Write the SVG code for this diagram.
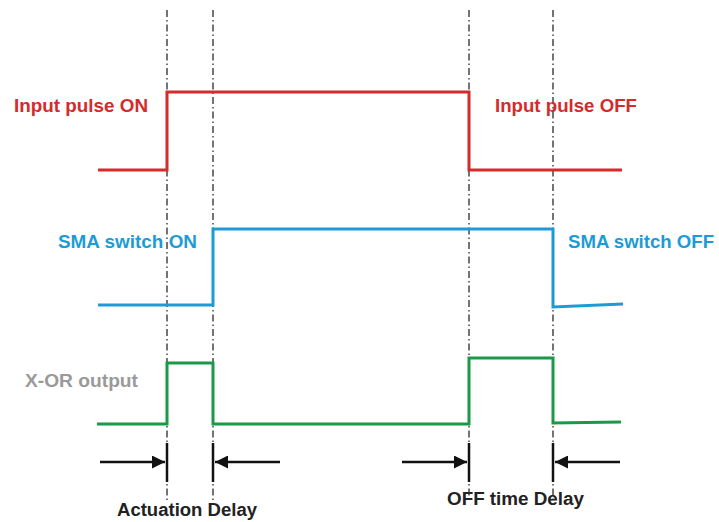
<svg xmlns="http://www.w3.org/2000/svg" width="719" height="522" viewBox="0 0 719 522">
<defs>
<style>
.guide{stroke:#2a2a2a;stroke-width:1.3;stroke-dasharray:7,3,1.5,3;fill:none}
.sig{fill:none;stroke-width:3;stroke-linejoin:miter}
.red{stroke:#d42b2b}
.blue{stroke:#1d9bd7}
.green{stroke:#1a9a48}
.lbl{font-family:"Liberation Sans",Arial,sans-serif;font-weight:bold;font-size:18px}
.tick{stroke:#111;stroke-width:2.5}
.arr{stroke:#111;stroke-width:2.5;fill:none;marker-end:url(#ah)}
</style>
<marker id="ah" viewBox="0 0 10 10" refX="10" refY="5" markerUnits="userSpaceOnUse" markerWidth="17" markerHeight="13" orient="auto">
<path d="M0,0 L10,5 L0,10 z" fill="#111"/>
</marker>
</defs>
<rect width="719" height="522" fill="#fff"/>
<g id="guides">
<line class="guide" x1="167" y1="10" x2="167" y2="500"/>
<line class="guide" x1="213" y1="10" x2="213" y2="500"/>
<line class="guide" x1="469" y1="10" x2="469" y2="500"/>
<line class="guide" x1="553" y1="10" x2="553" y2="500"/>
</g>
<g id="input-pulse">
<polyline class="sig red" points="98,170 167,170 167,92 469,92 469,170 622,170"/>
<text class="lbl" x="14" y="112" fill="#d42b2b" textLength="134" lengthAdjust="spacingAndGlyphs">Input pulse ON</text>
<text class="lbl" x="495" y="112" fill="#d42b2b" textLength="142" lengthAdjust="spacingAndGlyphs">Input pulse OFF</text>
</g>
<g id="sma-switch">
<polyline class="sig blue" points="98,305 213,305 213,229 553,229 553,307 623,304"/>
<text class="lbl" x="58" y="248" fill="#1d9bd7" textLength="139" lengthAdjust="spacingAndGlyphs">SMA switch ON</text>
<text class="lbl" x="568" y="248" fill="#1d9bd7" textLength="146" lengthAdjust="spacingAndGlyphs">SMA switch OFF</text>
</g>
<g id="xor-output">
<polyline class="sig green" points="97,424 167,424 167,363 213,363 213,424 469,424 469,358 553,358 553,423 621,422"/>
<text class="lbl" x="25" y="387" fill="#9a9a9a" textLength="113" lengthAdjust="spacingAndGlyphs">X-OR output</text>
</g>
<g id="connectors">
<line class="tick" x1="167" y1="443" x2="167" y2="482"/>
<line class="tick" x1="213" y1="443" x2="213" y2="482"/>
<line class="tick" x1="469" y1="443" x2="469" y2="482"/>
<line class="tick" x1="553" y1="443" x2="553" y2="482"/>
<line class="arr" x1="100" y1="462" x2="165" y2="462"/>
<line class="arr" x1="280" y1="462" x2="215" y2="462"/>
<line class="arr" x1="402" y1="462" x2="467" y2="462"/>
<line class="arr" x1="620" y1="462" x2="555" y2="462"/>
</g>
<g id="delay-labels">
<text class="lbl" x="117" y="516" fill="#222" textLength="140" lengthAdjust="spacingAndGlyphs">Actuation Delay</text>
<text class="lbl" x="447" y="505" fill="#222" textLength="137" lengthAdjust="spacingAndGlyphs">OFF time Delay</text>
</g>
</svg>
